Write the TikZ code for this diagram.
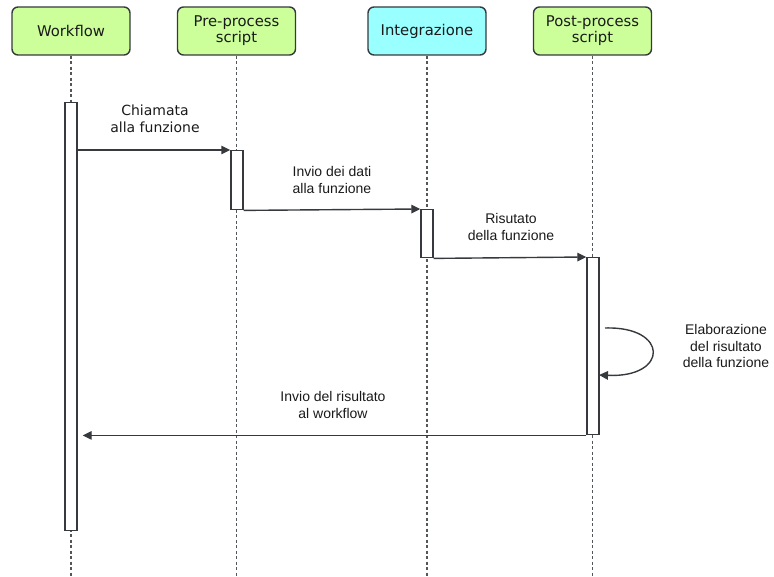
\documentclass[tikz,border=0pt]{standalone}
\usepackage{fontspec}
\setmainfont{Liberation Sans}
\newfontfamily\headfont{DejaVu Sans}
\usetikzlibrary{arrows.meta}
\definecolor{hgreen}{HTML}{CCFF99}
\definecolor{hcyan}{HTML}{99FFFF}
\definecolor{hborder}{HTML}{36393D}
\definecolor{ink}{HTML}{1A1A1A}
\begin{document}
\begin{tikzpicture}[x=1pt,y=-1pt,
  header/.style={draw=hborder, line width=1.4pt, rounded corners=6pt,
    minimum width=118pt, minimum height=48pt, align=center, text=ink,
    font=\headfont\fontsize{14.8}{16}\selectfont, inner sep=0pt},
  lifeline/.style={draw=hborder!85, line width=1.2pt, dash pattern=on 3pt off 2.5pt},
  actbar/.style={draw=hborder, fill=white, line width=1.4pt,
    minimum width=12pt, inner sep=0pt, anchor=north},
  msg/.style={draw=hborder, line width=1.4pt,
    -{Triangle[length=9pt,width=8.5pt]}},
  lbl/.style={align=center, text=ink, font=\fontsize{14}{16.5}\selectfont, inner sep=0pt},
  lblv/.style={align=center, text=ink, font=\headfont\fontsize{14}{16.5}\selectfont, inner sep=0pt}]
\useasboundingbox (0,0) rectangle (774,577);

% participants
\node[header, fill=hgreen] (wf)    at (71,31)  {Workflow};
\node[header, fill=hgreen] (pre)   at (236.5,31) {Pre-process\\script};
\node[header, fill=hcyan]  (integ) at (427,31) {Integrazione};
\node[header, fill=hgreen] (post)  at (592.5,31) {Post-process\\script};

% lifelines
\coordinate (wfend)    at (71,577);
\coordinate (preend)   at (237,577);
\coordinate (integend) at (427,577);
\coordinate (postend)  at (593,577);
\draw[lifeline] (wf.south)    -- (wf.south |- wfend);
\draw[lifeline] (pre.south)   -- (pre.south |- preend);
\draw[lifeline] (integ.south) -- (integ.south |- integend);
\draw[lifeline] (post.south)  -- (post.south |- postend);

% activation bars
\node[actbar, minimum height=428pt] (wfa)   at (71,102)  {};
\node[actbar, minimum height=59pt]  (prea)  at (237,150) {};
\node[actbar, minimum height=48pt]  (intga) at (427,209) {};
\node[actbar, minimum height=177pt] (posta) at (593,257) {};

% messages
\draw[msg] (wfa.east |- prea.north) -- (prea.north west);
\draw[msg] (prea.south east) -- (intga.north west);
\draw[msg] (intga.south east) -- (posta.north west);
\coordinate (loopstart) at (605,328);
\coordinate (loopend)   at (599,375);
\draw[msg] (loopstart) .. controls (669,326) and (669,378) .. (loopend);
\draw[msg, shorten >=5pt] (posta.south west) -- (wfa.east |- posta.south);

% message labels
\node[lblv] (m1) at (155,119) {Chiamata\\alla funzione};
\node[lbl]  (m2) at (332,180) {Invio dei dati\\alla funzione};
\node[lbl]  (m3) at (511,227) {Risutato\\della funzione};
\node[lbl]  (m4) at (726,346) {Elaborazione\\del risultato\\della funzione};
\node[lbl]  (m5) at (333,405) {Invio del risultato\\al workflow};
\end{tikzpicture}
\end{document}
